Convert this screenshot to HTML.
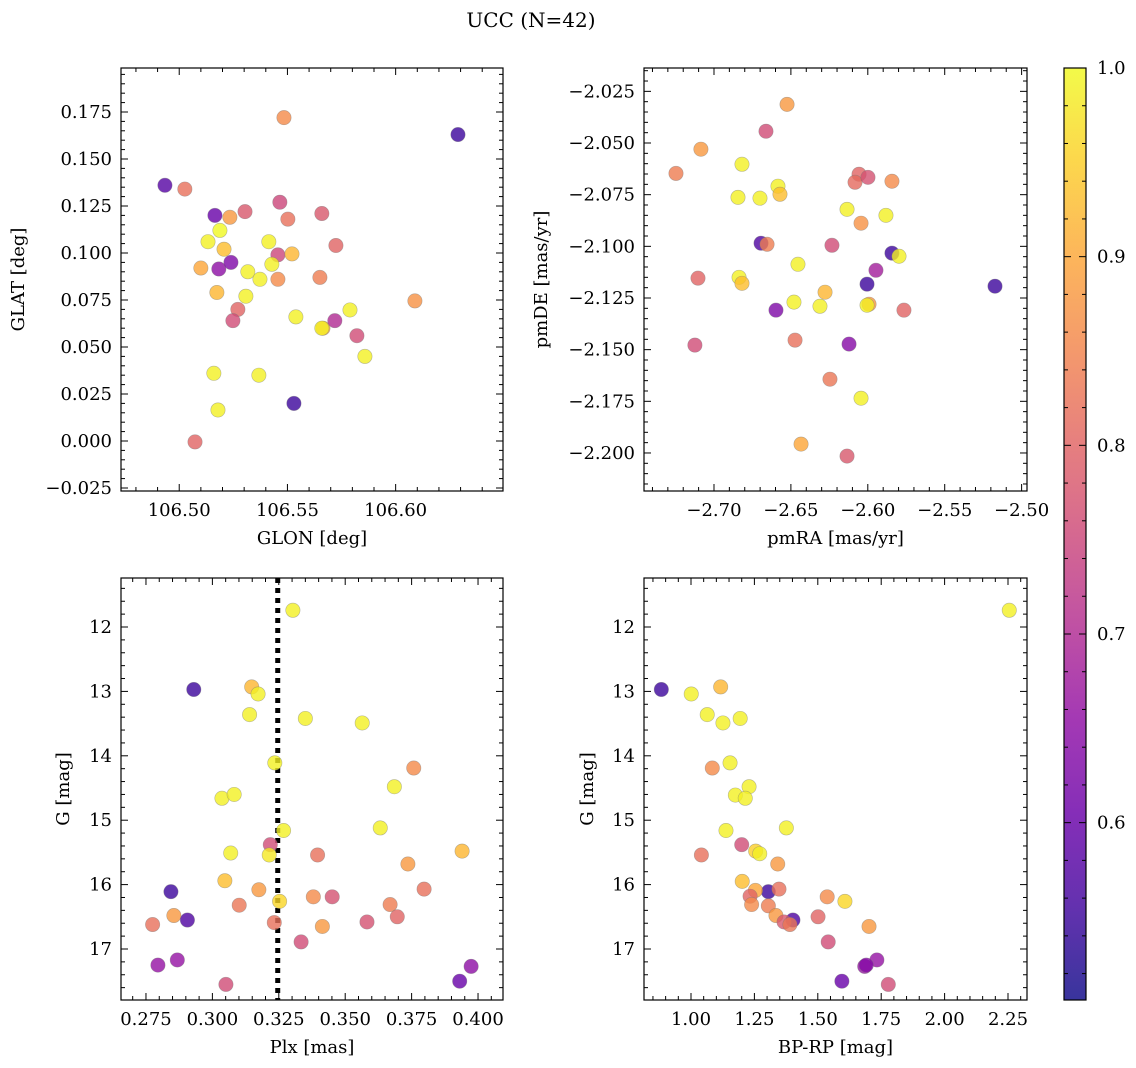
<!DOCTYPE html>
<html><head><meta charset="utf-8">
<style>
html,body{margin:0;padding:0;background:#fff;}
svg{display:block;font-family:"DejaVu Serif","Liberation Serif",serif;}
</style></head>
<body>
<svg id="fig" width="1136" height="1068" viewBox="0 0 1136 1068" xmlns="http://www.w3.org/2000/svg">
<rect width="1136" height="1068" fill="#fff"/>
<text x="531" y="27" font-size="20" text-anchor="middle">UCC (N=42)</text>
</svg>
<script>
// Panel 1: GLON vs GLAT
const glon1=[106.4934,106.5026,106.5165,106.5234,106.5304,106.5465,106.5502,106.5659,106.5724,106.5133,106.5188,106.5207,106.5100,106.5183,106.5239,106.5414,106.5456,106.5521,106.5317,106.5373,106.5428,106.5456,106.5650,106.5174,106.5308,106.5271,106.5248,106.5539,106.5664,106.5659,106.5719,106.5789,106.5821,106.5858,106.6089,106.6288,106.5484,106.5160,106.5368,106.5179,106.5530,106.5073];
const glat1=[0.136,0.134,0.120,0.119,0.122,0.127,0.118,0.121,0.104,0.106,0.112,0.102,0.092,0.0915,0.095,0.106,0.099,0.0995,0.090,0.086,0.094,0.086,0.087,0.079,0.077,0.070,0.064,0.066,0.060,0.060,0.064,0.0697,0.056,0.045,0.0745,0.163,0.172,0.036,0.035,0.0165,0.020,-0.0005];
const prob1=[0.58,0.82,0.6,0.88,0.78,0.75,0.82,0.78,0.8,0.99,1.0,0.93,0.9,0.65,0.63,0.99,0.75,0.92,0.99,0.99,0.99,0.86,0.84,0.92,0.99,0.8,0.76,0.99,0.9,0.99,0.7,0.99,0.76,0.99,0.87,0.55,0.86,0.99,0.99,0.99,0.55,0.8];
// Panel 2: pmRA vs pmDE
const pmra2=[-2.6525,-2.6662,-2.7085,-2.7247,-2.6818,-2.6844,-2.6701,-2.6584,-2.6571,-2.6057,-2.6083,-2.5999,-2.5843,-2.6135,-2.5882,-2.6044,-2.6694,-2.6655,-2.6233,-2.5843,-2.5797,-2.6454,-2.5947,-2.7104,-2.6837,-2.6818,-2.6005,-2.5173,-2.6278,-2.6480,-2.6311,-2.5992,-2.6005,-2.6597,-2.5765,-2.7124,-2.6473,-2.6122,-2.6246,-2.6044,-2.6434,-2.6135];
const pmde2=[-2.0313,-2.0443,-2.0530,-2.0647,-2.0603,-2.0763,-2.0767,-2.0709,-2.0748,-2.0651,-2.0690,-2.0666,-2.0685,-2.0821,-2.0850,-2.0888,-2.0985,-2.0990,-2.0995,-2.1033,-2.1048,-2.1087,-2.1116,-2.1154,-2.1150,-2.1179,-2.1183,-2.1193,-2.1222,-2.1270,-2.1290,-2.1280,-2.1285,-2.1309,-2.1309,-2.1478,-2.1454,-2.1473,-2.1643,-2.1735,-2.1957,-2.2015];
const prob2=[0.88,0.76,0.88,0.84,0.99,0.99,0.99,0.99,0.93,0.8,0.81,0.77,0.86,0.99,0.99,0.87,0.57,0.84,0.76,0.55,0.99,0.99,0.68,0.8,0.99,0.93,0.55,0.55,0.92,0.99,0.99,0.88,0.99,0.63,0.8,0.76,0.82,0.64,0.83,0.99,0.9,0.78];
// Panel 3: Plx vs G
const plx3=[0.3303,0.2930,0.3148,0.3172,0.3140,0.3350,0.3564,0.3235,0.3758,0.3685,0.3036,0.3082,0.3268,0.3632,0.3218,0.3069,0.3214,0.3396,0.3940,0.3736,0.3047,0.2844,0.3175,0.3797,0.3253,0.3380,0.3451,0.3101,0.3669,0.2855,0.2906,0.2775,0.3233,0.3414,0.3582,0.3696,0.3334,0.2795,0.2868,0.3051,0.3931,0.3974];
const g3=[11.74,12.97,12.93,13.04,13.36,13.42,13.49,14.11,14.19,14.48,14.66,14.60,15.16,15.12,15.38,15.51,15.54,15.54,15.48,15.68,15.94,16.11,16.08,16.07,16.26,16.19,16.19,16.32,16.31,16.48,16.55,16.62,16.59,16.65,16.58,16.50,16.89,17.25,17.17,17.55,17.50,17.27];
const prob3=[0.99,0.55,0.92,0.99,0.99,0.99,0.99,0.99,0.86,0.99,0.99,0.99,0.99,0.99,0.76,0.99,0.98,0.82,0.92,0.88,0.93,0.55,0.88,0.82,0.96,0.86,0.77,0.83,0.84,0.88,0.57,0.82,0.82,0.88,0.77,0.8,0.76,0.66,0.66,0.76,0.6,0.65];
const plxLine=[0.3246];
// Panel 4: BP-RP vs G
const bprp4=[2.255,0.883,1.001,1.117,1.064,1.126,1.194,1.154,1.084,1.229,1.175,1.214,1.138,1.376,1.200,1.041,1.255,1.271,1.342,1.202,1.305,1.347,1.254,1.233,1.537,1.607,1.239,1.305,1.335,1.402,1.367,1.390,1.501,1.702,1.541,1.733,1.685,1.691,1.595,1.778];
const g4=[11.74,12.97,13.04,12.93,13.36,13.49,13.42,14.11,14.19,14.48,14.61,14.66,15.16,15.12,15.38,15.54,15.48,15.52,15.68,15.95,16.11,16.07,16.09,16.18,16.19,16.26,16.31,16.33,16.48,16.55,16.58,16.62,16.50,16.65,16.89,17.17,17.27,17.25,17.50,17.55];
const prob4=[0.99,0.55,0.99,0.92,0.99,0.99,0.99,0.99,0.86,0.99,0.99,0.99,0.99,0.99,0.76,0.82,0.95,0.99,0.88,0.93,0.55,0.82,0.9,0.8,0.86,0.96,0.86,0.84,0.88,0.57,0.78,0.83,0.8,0.88,0.76,0.66,0.66,0.64,0.6,0.76];
// Tick labels
const p1xTicks=[106.50,106.55,106.60];
const p1yTicks=[-0.025,0.000,0.025,0.050,0.075,0.100,0.125,0.150,0.175];
const p2xTicks=[-2.70,-2.65,-2.60,-2.55,-2.50];
const p2yTicks=[-2.025,-2.050,-2.075,-2.100,-2.125,-2.150,-2.175,-2.200];
const p3xTicks=[0.275,0.300,0.325,0.350,0.375,0.400];
const gTicks=[12,13,14,15,16,17];
const p4xTicks=[1.00,1.25,1.50,1.75,2.00,2.25];
const cbTicks=[0.6,0.7,0.8,0.9,1.0];
const cbMin=0.506, cbMax=1.0;

const NS="http://www.w3.org/2000/svg";
const svg=document.getElementById('fig');
const FS=18;
function mk(tag,attrs,parent){const e=document.createElementNS(NS,tag);for(const k in attrs)e.setAttribute(k,attrs[k]);(parent||svg).appendChild(e);return e;}
const stops=[[0,'#0d0887'],[0.1,'#41049d'],[0.2,'#6a00a8'],[0.3,'#8f0da4'],[0.4,'#b12a90'],[0.5,'#cc4778'],[0.6,'#e16462'],[0.7,'#f2844b'],[0.8,'#fca636'],[0.9,'#fcce25'],[1,'#f0f921']];
function hex(h){return [parseInt(h.substr(1,2),16),parseInt(h.substr(3,2),16),parseInt(h.substr(5,2),16)];}
function plasma(t){t=Math.max(0,Math.min(1,t));for(let i=0;i<stops.length-1;i++){const a=stops[i],b=stops[i+1];if(t<=b[0]){const f=(t-a[0])/(b[0]-a[0]);const ca=hex(a[1]),cb=hex(b[1]);return 'rgb('+ca.map((v,j)=>Math.round(v+(cb[j]-v)*f)).join(',')+')';}}return stops[stops.length-1][1];}
function cmap(v){return plasma((v-cbMin)/(cbMax-cbMin));}
function lin(d0,d1,r0,r1){return v=>r0+(v-d0)/(d1-d0)*(r1-r0);}

function panel(cfg){
  const g=mk('g',{});
  
  
  const {L,R,T,B}=cfg;
  const sx=lin(cfg.xd[0],cfg.xd[1],L,R), sy=lin(cfg.yd[0],cfg.yd[1],B,T);
  const tg=mk('g',{stroke:'#000','stroke-width':1},g);
  
  
  const lo=Math.min(...cfg.xd),hi=Math.max(...cfg.xd);
  for(let v=Math.ceil(lo/cfg.xminor-1e-9)*cfg.xminor;v<=hi+1e-9;v+=cfg.xminor){const x=sx(v);const maj=Math.abs(((v/cfg.xmajor)-Math.round(v/cfg.xmajor)))<1e-6;const l=maj?7:4;mk('line',{x1:x,x2:x,y1:B,y2:B-l},tg);mk('line',{x1:x,x2:x,y1:T,y2:T+l},tg);}
  const ylo=Math.min(...cfg.yd),yhi=Math.max(...cfg.yd);
  for(let v=Math.ceil(ylo/cfg.yminor-1e-9)*cfg.yminor;v<=yhi+1e-9;v+=cfg.yminor){const y=sy(v);const maj=Math.abs(((v/cfg.ymajor)-Math.round(v/cfg.ymajor)))<1e-6;const l=maj?7:4;mk('line',{x1:L,x2:L+l,y1:y,y2:y},tg);mk('line',{x1:R,x2:R-l,y1:y,y2:y},tg);}
  cfg.xt.forEach(v=>{const t=mk('text',{x:sx(v),y:B+25,'font-size':FS,'text-anchor':'middle'},g);t.textContent=v.toFixed(cfg.xdec).replace('-','\u2212');});
  cfg.yt.forEach(v=>{const t=mk('text',{x:L-9,y:sy(v)+6,'font-size':FS,'text-anchor':'end'},g);t.textContent=v.toFixed(cfg.ydec).replace('-','\u2212');});
  const xl=mk('text',{x:(L+R)/2,y:B+53,'font-size':FS,'text-anchor':'middle'},g);xl.textContent=cfg.xlabel;
  
  const yl=mk('text',{x:0,y:0,'font-size':FS,'text-anchor':'middle',transform:`translate(${cfg.ylx},${(T+B)/2}) rotate(-90)`},g);yl.textContent=cfg.ylabel;
  
  if(cfg.vline){cfg.vline.forEach(v=>{const ln=mk('line',{x1:sx(v),x2:sx(v),y1:T,y2:B,stroke:'#000','stroke-width':5,'stroke-dasharray':'5,5'},g);});}
  const pg=mk('g',{},g);
  
  
  cfg.xs.forEach((xv,i)=>{const c=mk('circle',{cx:sx(xv),cy:sy(cfg.ys[i]),r:7.2,fill:cmap(cfg.cs[i]),'fill-opacity':0.8,stroke:'#777','stroke-opacity':0.5,'stroke-width':0.6},pg);
    
    });
  const fr=mk('rect',{x:L,y:T,width:R-L,height:B-T,fill:'none',stroke:'#000','stroke-width':1.2},g);
  
}
panel({name:'glon-glat-panel',L:121,R:503,T:68,B:491,xd:[106.4731,106.6496],yd:[-0.0266,0.1984],xt:p1xTicks,yt:p1yTicks,xminor:0.01,xmajor:0.05,yminor:0.005,ymajor:0.025,xdec:2,ydec:3,xlabel:'GLON [deg]',ylabel:'GLAT [deg]',ylx:24,xs:glon1,ys:glat1,cs:prob1});
panel({name:'pm-panel',L:644,R:1027,T:68,B:491,xd:[-2.7455,-2.4965],yd:[-2.2184,-2.0137],xt:p2xTicks,yt:p2yTicks,xminor:0.01,xmajor:0.05,yminor:0.005,ymajor:0.025,xdec:2,ydec:3,xlabel:'pmRA [mas/yr]',ylabel:'pmDE [mas/yr]',ylx:547,xs:pmra2,ys:pmde2,cs:prob2});
panel({name:'plx-g-panel',L:121,R:503,T:578,B:1000,xd:[0.2656,0.4094],yd:[17.792,11.239],xt:p3xTicks,yt:gTicks,xminor:0.005,xmajor:0.025,yminor:0.2,ymajor:1,xdec:3,ydec:0,xlabel:'Plx [mas]',ylabel:'G [mag]',ylx:69,xs:plx3,ys:g3,cs:prob3,vline:plxLine});
panel({name:'cmd-panel',L:644,R:1027,T:578,B:1000,xd:[0.8147,2.3249],yd:[17.792,11.239],xt:p4xTicks,yt:gTicks,xminor:0.05,xmajor:0.25,yminor:0.2,ymajor:1,xdec:2,ydec:0,xlabel:'BP-RP [mag]',ylabel:'G [mag]',ylx:593,xs:bprp4,ys:g4,cs:prob4});

// Colorbar
const defs=mk('defs',{});
const lg=mk('linearGradient',{id:'cbg',x1:0,y1:1,x2:0,y2:0},defs);
for(let i=0;i<=20;i++){mk('stop',{offset:i/20,'stop-color':plasma(i/20)},lg);}
const cb=mk('g',{});


const cT=68,cB=1000,cL=1064,cR=1086;
const cy=lin(cbMin,cbMax,cB,cT);
mk('rect',{x:cL,y:cT,width:cR-cL,height:cB-cT,fill:'url(#cbg)','fill-opacity':0.82},cb);
for(let v=0.52;v<=1.0001;v+=0.02){const y=cy(v);const maj=cbTicks.some(t=>Math.abs(t-v)<1e-3);const l=maj?7:4;mk('line',{x1:cR,x2:cR-l,y1:y,y2:y,stroke:'#000'},cb);mk('line',{x1:cL,x2:cL+l,y1:y,y2:y,stroke:'#000'},cb);}
cbTicks.forEach(v=>{const t=mk('text',{x:cR+11,y:cy(v)+6,'font-size':FS},cb);t.textContent=v.toFixed(1);});
mk('rect',{x:cL,y:cT,width:cR-cL,height:cB-cT,fill:'none',stroke:'#000','stroke-width':1.2},cb);
</script>
</body></html>
